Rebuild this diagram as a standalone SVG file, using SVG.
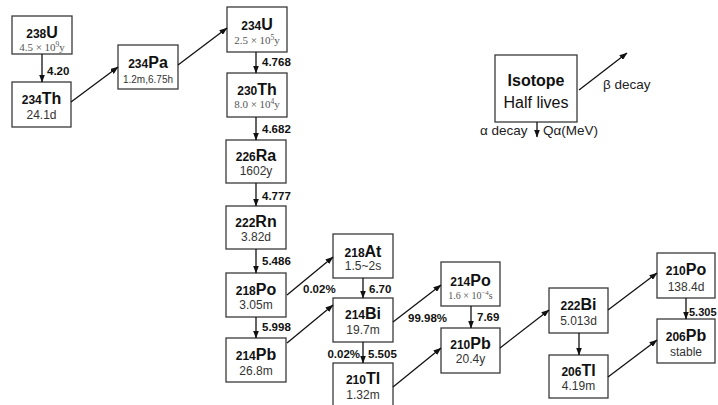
<svg xmlns="http://www.w3.org/2000/svg" width="718" height="405" viewBox="0 0 718 405">
<style>
.box{fill:#fff;stroke:#3a3a3a;stroke-width:1.3}
.t{font-family:"Liberation Sans",Arial,sans-serif;font-weight:bold;fill:#111;text-anchor:middle}
.m{font-size:12px}
.s{font-size:16px}
.h{font-family:"Liberation Sans",Arial,sans-serif;font-size:12px;fill:#333;text-anchor:middle}
.hs{font-family:"Liberation Serif","Times New Roman",serif;font-size:11px;fill:#555;text-anchor:middle}
.sup{font-size:7.5px}
.lab{font-family:"Liberation Sans",Arial,sans-serif;font-weight:bold;font-size:11.5px;fill:#111}
.c line{stroke:#111;stroke-width:1.3;marker-end:url(#ah)}
.lg{font-family:"Liberation Sans",Arial,sans-serif;font-size:13.5px;fill:#222}
</style>
<defs>
<marker id="ah" markerUnits="userSpaceOnUse" markerWidth="8" markerHeight="6" refX="7.5" refY="3" orient="auto">
<path d="M0,0 L8,3 L0,6 z" fill="#111"/>
</marker>
</defs>
<rect width="718" height="405" fill="#fff"/>

<g id="U238"><rect class="box" x="12" y="16" width="60" height="38"/>
<text class="t" x="42" y="38"><tspan class="m">238</tspan><tspan class="s">U</tspan></text>
<text class="hs" x="42" y="51">4.5 × 10<tspan class="sup" dy="-4">9</tspan><tspan dy="4">y</tspan></text></g>

<g id="Th234"><rect class="box" x="12" y="82" width="59" height="45"/>
<text class="t" x="41.5" y="104"><tspan class="m">234</tspan><tspan class="s">Th</tspan></text>
<text class="h" x="41.5" y="119">24.1d</text></g>

<g id="Pa234"><rect class="box" x="118" y="45" width="60" height="44"/>
<text class="t" x="148" y="68"><tspan class="m">234</tspan><tspan class="s">Pa</tspan></text>
<text class="h" x="148" y="83" style="font-size:10px">1.2m,6.75h</text></g>

<g id="U234"><rect class="box" x="227" y="7" width="60" height="45"/>
<text class="t" x="257" y="30"><tspan class="m">234</tspan><tspan class="s">U</tspan></text>
<text class="hs" x="257" y="44">2.5 × 10<tspan class="sup" dy="-4">5</tspan><tspan dy="4">y</tspan></text></g>

<g id="Th230"><rect class="box" x="227" y="73" width="60" height="44"/>
<text class="t" x="257" y="95"><tspan class="m">230</tspan><tspan class="s">Th</tspan></text>
<text class="hs" x="257" y="108">8.0 × 10<tspan class="sup" dy="-4">4</tspan><tspan dy="4">y</tspan></text></g>

<g id="Ra226"><rect class="box" x="226" y="140" width="60" height="43"/>
<text class="t" x="256" y="161"><tspan class="m">226</tspan><tspan class="s">Ra</tspan></text>
<text class="h" x="256" y="175">1602y</text></g>

<g id="Rn222"><rect class="box" x="226" y="206" width="60" height="43"/>
<text class="t" x="256" y="227"><tspan class="m">222</tspan><tspan class="s">Rn</tspan></text>
<text class="h" x="256" y="241">3.82d</text></g>

<g id="Po218"><rect class="box" x="226" y="273" width="60" height="44"/>
<text class="t" x="256" y="295"><tspan class="m">218</tspan><tspan class="s">Po</tspan></text>
<text class="h" x="256" y="309">3.05m</text></g>

<g id="Pb214"><rect class="box" x="226" y="338" width="60" height="44"/>
<text class="t" x="256" y="360"><tspan class="m">214</tspan><tspan class="s">Pb</tspan></text>
<text class="h" x="256" y="375">26.8m</text></g>

<g id="At218"><rect class="box" x="333" y="234" width="60" height="44"/>
<text class="t" x="363" y="257"><tspan class="m">218</tspan><tspan class="s">At</tspan></text>
<text class="h" x="363" y="270">1.5~2s</text></g>

<g id="Bi214"><rect class="box" x="333" y="298" width="60" height="44"/>
<text class="t" x="363" y="319"><tspan class="m">214</tspan><tspan class="s">Bi</tspan></text>
<text class="h" x="363" y="334">19.7m</text></g>

<g id="Tl210"><rect class="box" x="333" y="363" width="60" height="46"/>
<text class="t" x="363" y="384"><tspan class="m">210</tspan><tspan class="s">Tl</tspan></text>
<text class="h" x="363" y="399">1.32m</text></g>

<g id="Po214"><rect class="box" x="441" y="262" width="59" height="44"/>
<text class="t" x="470.5" y="286"><tspan class="m">214</tspan><tspan class="s">Po</tspan></text>
<text class="hs" x="470.5" y="299" style="font-size:10px">1.6 × 10<tspan dy="-4" style="font-size:7px">−4</tspan><tspan dy="4">s</tspan></text></g>

<g id="Pb210"><rect class="box" x="441" y="328" width="59" height="45"/>
<text class="t" x="470.5" y="349"><tspan class="m">210</tspan><tspan class="s">Pb</tspan></text>
<text class="h" x="470.5" y="363">20.4y</text></g>

<g id="Bi222"><rect class="box" x="549" y="288" width="59" height="45"/>
<text class="t" x="578.5" y="310"><tspan class="m">222</tspan><tspan class="s">Bi</tspan></text>
<text class="h" x="578.5" y="325">5.013d</text></g>

<g id="Tl206"><rect class="box" x="549" y="355" width="59" height="43"/>
<text class="t" x="578.5" y="376"><tspan class="m">206</tspan><tspan class="s">Tl</tspan></text>
<text class="h" x="578.5" y="390">4.19m</text></g>

<g id="Po210"><rect class="box" x="657" y="253" width="58" height="45"/>
<text class="t" x="686" y="275"><tspan class="m">210</tspan><tspan class="s">Po</tspan></text>
<text class="h" x="686" y="291">138.4d</text></g>

<g id="Pb206"><rect class="box" x="657" y="319" width="58" height="44"/>
<text class="t" x="686" y="341"><tspan class="m">206</tspan><tspan class="s">Pb</tspan></text>
<text class="h" x="686" y="356">stable</text></g>

<g id="legend"><rect class="box" x="495" y="55" width="82" height="67"/>
<text x="536" y="86" font-family="Liberation Sans,Arial,sans-serif" font-weight="bold" font-size="16" fill="#111" text-anchor="middle">Isotope</text>
<text x="536" y="108" font-family="Liberation Sans,Arial,sans-serif" font-size="16" fill="#111" text-anchor="middle">Half lives</text>
<text class="lg" x="603" y="89">β decay</text>
<text class="lg" x="480" y="135">α decay</text>
<text class="lg" x="543" y="135">Qα(MeV)</text></g>

<g id="connectors" class="c">
<line x1="42" y1="54" x2="42" y2="82"/>
<line x1="256" y1="52" x2="256" y2="73"/>
<line x1="256" y1="117" x2="256" y2="140"/>
<line x1="256" y1="183" x2="256" y2="206"/>
<line x1="256" y1="249" x2="256" y2="273"/>
<line x1="256" y1="317" x2="256" y2="338"/>
<line x1="363" y1="278" x2="363" y2="298"/>
<line x1="363" y1="342" x2="363" y2="363"/>
<line x1="471" y1="306" x2="471" y2="328"/>
<line x1="579" y1="333" x2="579" y2="355"/>
<line x1="686" y1="298" x2="686" y2="319"/>
<line x1="71" y1="102" x2="118" y2="67"/>
<line x1="178" y1="65" x2="227" y2="28"/>
<line x1="287" y1="295" x2="333" y2="257"/>
<line x1="287" y1="343" x2="333" y2="305"/>
<line x1="393" y1="322" x2="441" y2="285"/>
<line x1="393" y1="387" x2="441" y2="348"/>
<line x1="500" y1="348" x2="549" y2="310"/>
<line x1="608" y1="310" x2="657" y2="273"/>
<line x1="608" y1="377" x2="657" y2="340"/>
<line x1="579" y1="90" x2="627" y2="53"/>
<line x1="537" y1="122" x2="537" y2="137"/>
</g>

<g id="labels">
<text class="lab" x="47" y="75">4.20</text>
<text class="lab" x="262" y="66">4.768</text>
<text class="lab" x="262" y="133">4.682</text>
<text class="lab" x="262" y="200">4.777</text>
<text class="lab" x="262" y="265">5.486</text>
<text class="lab" x="262" y="331">5.998</text>
<text class="lab" x="303" y="293">0.02%</text>
<text class="lab" x="369" y="293">6.70</text>
<text class="lab" x="360" y="358" text-anchor="end">0.02%</text>
<text class="lab" x="368" y="358">5.505</text>
<text class="lab" x="408" y="322">99.98%</text>
<text class="lab" x="477" y="321">7.69</text>
<text class="lab" x="689" y="316" style="font-size:11px">5.305</text>
</g>
</svg>
